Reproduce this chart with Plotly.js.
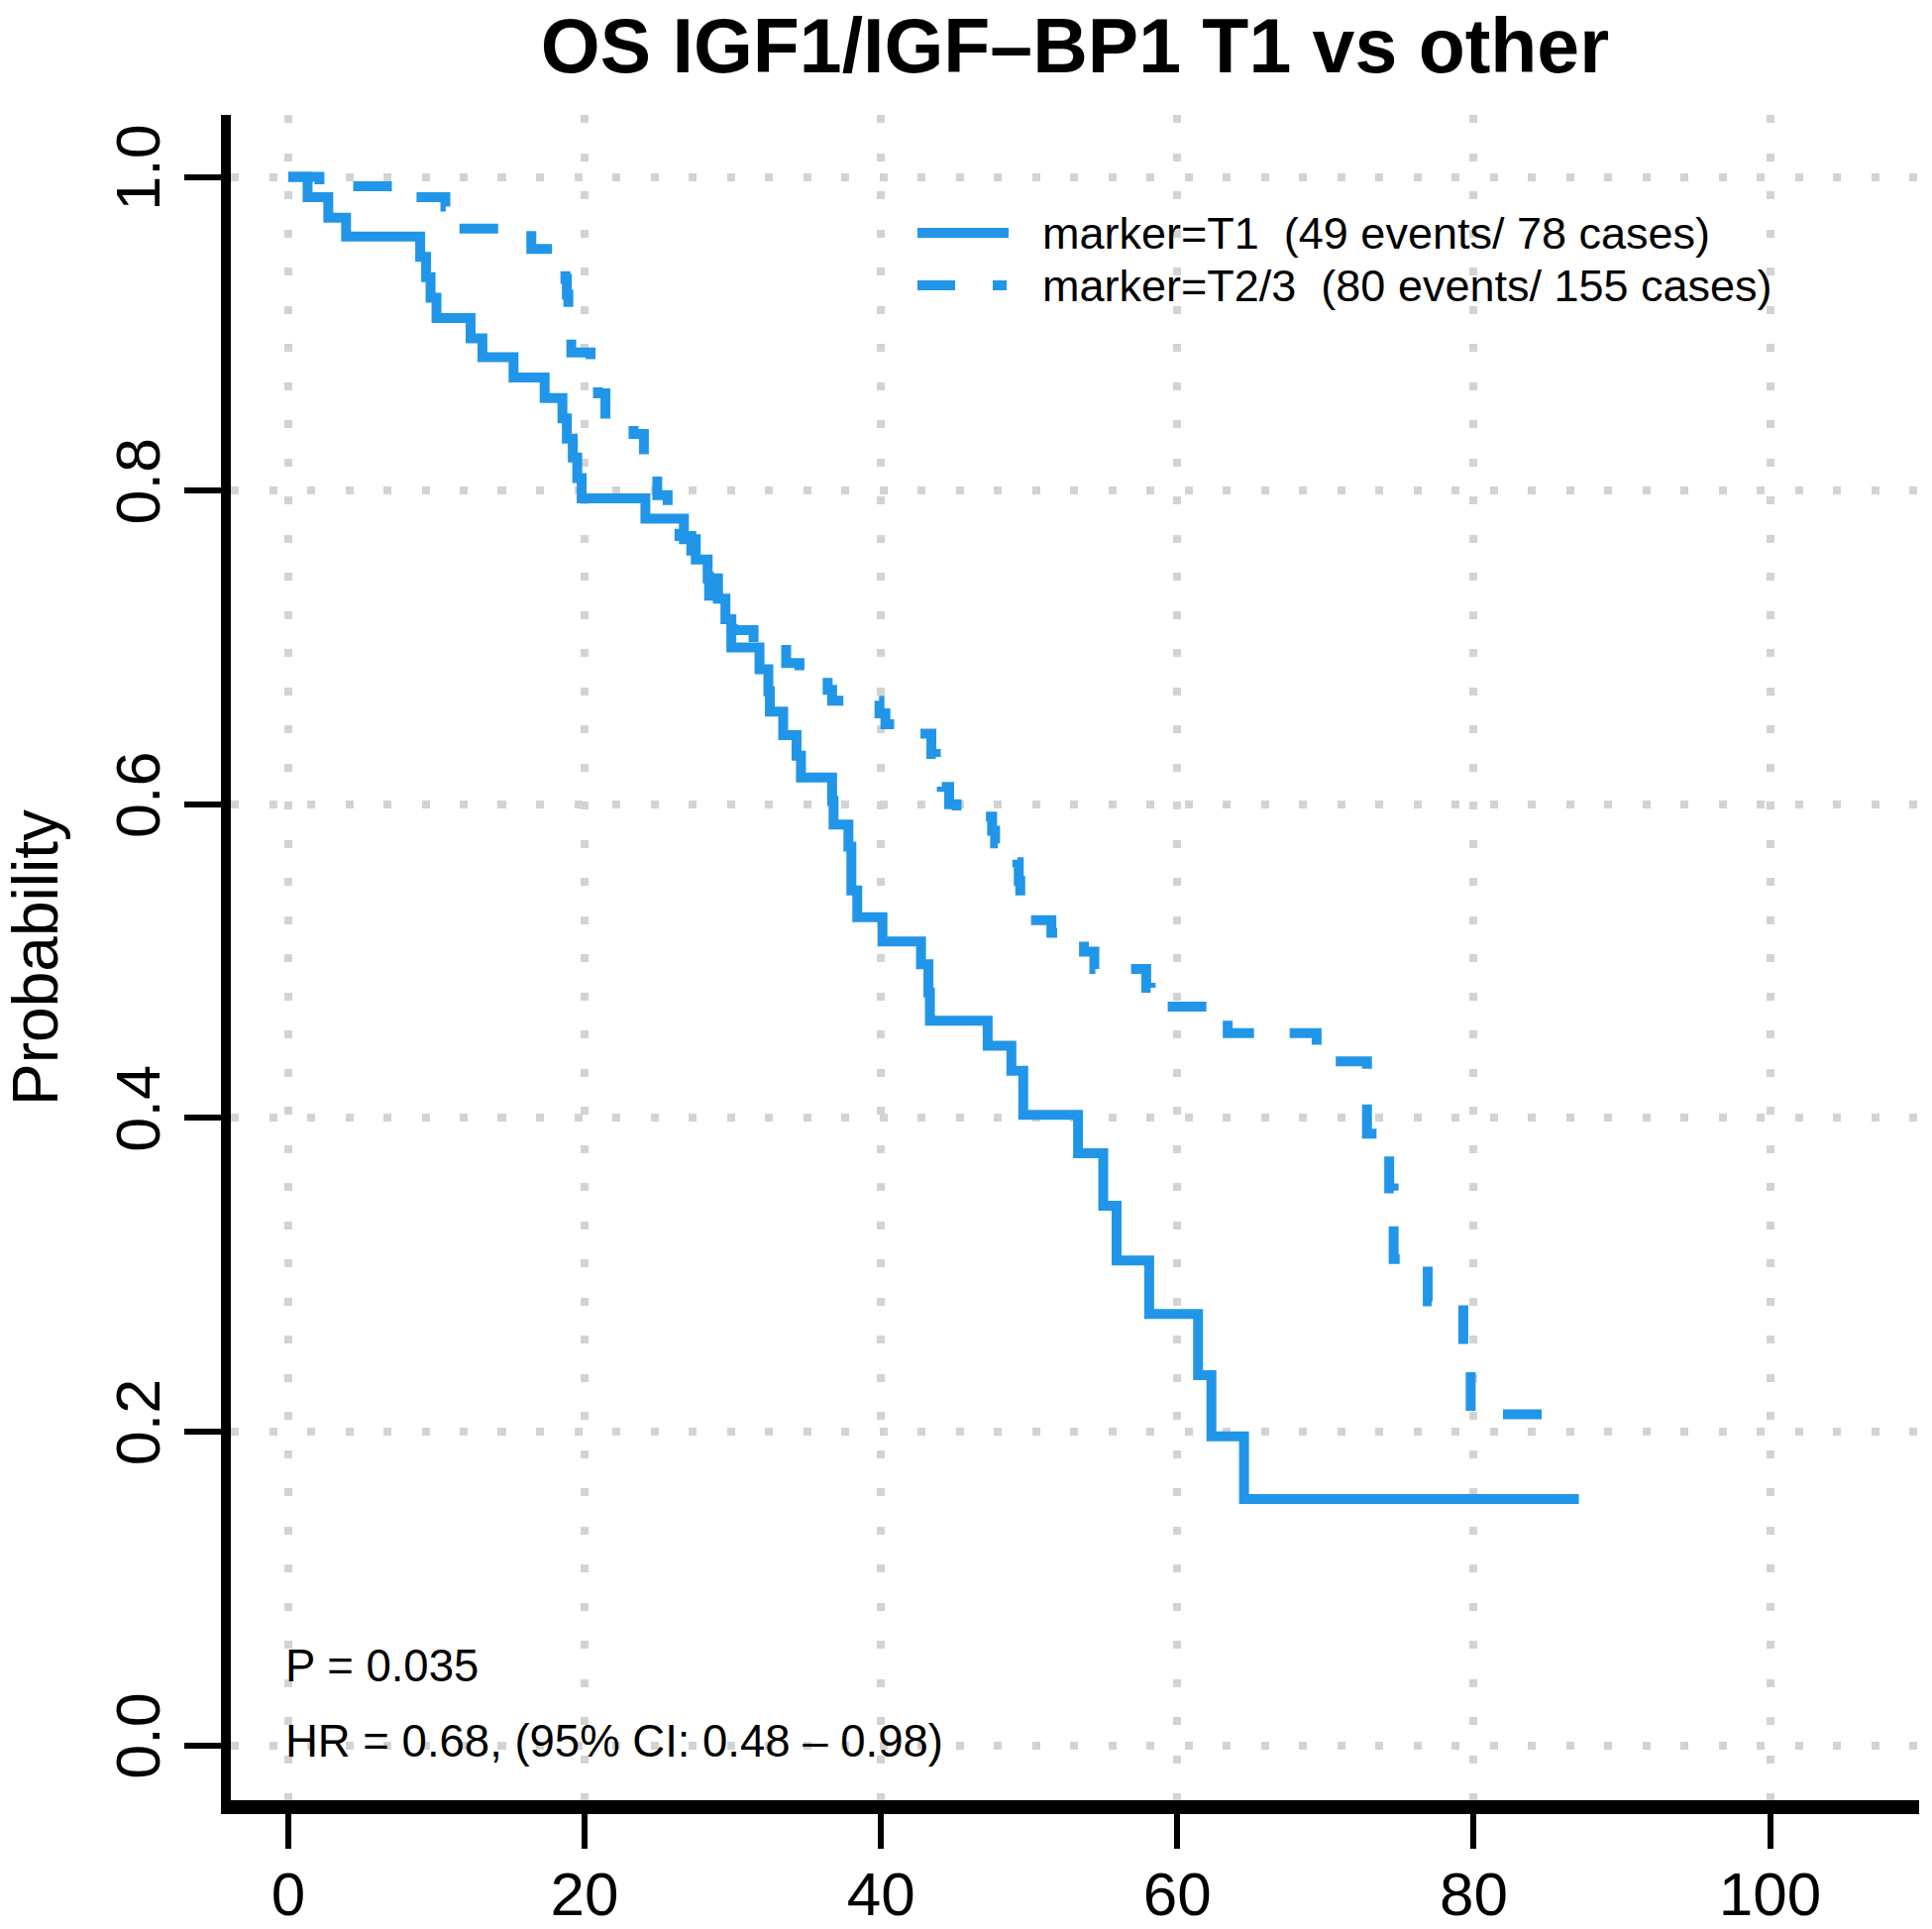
<!DOCTYPE html>
<html><head><meta charset="utf-8">
<script src="https://cdn.plot.ly/plotly-3.0.1.min.js"></script>
<style>html,body{margin:0;padding:0;background:#fff}#chart{width:1950px;height:1947px}</style>
</head><body><div id="chart"></div>
<script>
// ---- data ----
const t1_time = [0, 1.3, 2.7, 3.9, 8.9, 9.3, 9.6, 10.0, 12.3, 13.1, 15.2, 17.3, 18.5, 18.8, 19.2, 19.5, 19.8, 24.1, 26.7, 27.5, 28.3, 29.0, 29.5, 29.9, 31.8, 32.4, 32.5, 33.4, 34.3, 34.6, 36.7, 36.8, 37.8, 38.0, 38.4, 40.1, 42.7, 43.2, 43.3, 47.2, 48.8, 49.6, 53.3, 55.0, 55.9, 58.1, 61.4, 62.3, 64.5, 87.1];
const t1_surv = [1, 0.987, 0.974, 0.962, 0.949, 0.936, 0.923, 0.910, 0.897, 0.885, 0.872, 0.859, 0.846, 0.833, 0.821, 0.808, 0.795, 0.782, 0.769, 0.756, 0.744, 0.731, 0.718, 0.700, 0.686, 0.672, 0.659, 0.644, 0.631, 0.617, 0.602, 0.587, 0.573, 0.545, 0.528, 0.5125, 0.498, 0.48, 0.462, 0.446, 0.43, 0.402, 0.3775, 0.344, 0.309, 0.275, 0.236, 0.197, 0.157, 0.157];

const t23_time = [0, 2.1, 7.7, 10.6, 11.0, 11.5, 16.4, 18.4, 18.7, 18.8, 18.9, 19.0, 19.1, 20.4, 20.9, 21.4, 23.3, 24.0, 24.6, 24.9, 25.6, 26.4, 27.2, 27.8, 28.4, 29.0, 30.0, 31.4, 33.6, 34.5, 36.4, 36.7, 39.9, 40.3, 42.5, 43.4, 43.7, 44.1, 44.6, 45.1, 47.5, 47.7, 49.2, 49.3, 49.4, 49.5, 51.5, 53.7, 54.4, 57.9, 58.2, 63.2, 63.4, 69.4, 72.8, 74.3, 74.6, 76.9, 79.3, 79.8, 84.7];
const t23_surv = [1, 0.994, 0.987, 0.981, 0.974, 0.967, 0.954, 0.947, 0.935, 0.925, 0.913, 0.9, 0.888, 0.875, 0.862, 0.849, 0.836, 0.823, 0.81, 0.797, 0.784, 0.771, 0.758, 0.745, 0.733, 0.72, 0.711, 0.702, 0.69, 0.681, 0.673, 0.666, 0.658, 0.651, 0.645, 0.632, 0.62, 0.611, 0.6, 0.592, 0.583, 0.575, 0.563, 0.551, 0.539, 0.526, 0.518, 0.506, 0.495, 0.483, 0.471, 0.462, 0.454, 0.436, 0.39, 0.355, 0.31, 0.283, 0.245, 0.211, 0.211];

const seriesNames = ['marker=T1', 'marker=T2/3'];
const legendLabels = ['marker=T1\u00a0\u00a0(49 events/ 78 cases)', 'marker=T2/3\u00a0\u00a0(80 events/ 155 cases)'];
const xTickVals = [0, 20, 40, 60, 80, 100];
const xTickText = ['0', '20', '40', '60', '80', '100'];
const yTickVals = [0, 0.2, 0.4, 0.6, 0.8, 1.0];
const yTickText = ['0.0', '0.2', '0.4', '0.6', '0.8', '1.0'];
const titleText = 'OS IGF1/IGF\u2013BP1 T1 vs other';
const yTitleText = 'Probability';
const pText = 'P = 0.035';
const hrText = 'HR = 0.68, (95% CI: 0.48 \u2013 0.98)';

// ---- layout geometry ----
const W = 1950, H = 1947;
const M = {l: 233, r: 13, t: 116, b: 130};
const plotW = W - M.l - M.r, plotH = H - M.t - M.b;
const FONT = 'Liberation Sans, Arial, Helvetica, sans-serif';
const BLUE = '#2196E8';
const DASH = '39px,36px';
const px2x = px => (px - M.l) / plotW;
const py2y = py => (H - M.b - py) / plotH;
const X0PX = 291, XPX = 14.955, Y0PX = 1761.5, YPX = 1583;

const traces = [
  {x: t1_time, y: t1_surv, name: seriesNames[0], type: 'scatter', mode: 'lines',
   line: {shape: 'hv', color: BLUE, width: 10, dash: 'solid'}, showlegend: false, hoverinfo: 'skip'},
  {x: t23_time, y: t23_surv, name: seriesNames[1], type: 'scatter', mode: 'lines',
   line: {shape: 'hv', color: BLUE, width: 10, dash: DASH}, showlegend: false, hoverinfo: 'skip'}
];

const legY = [235, 288];
const shapes = [
  {type: 'line', xref: 'paper', yref: 'paper', x0: px2x(926), x1: px2x(1018), y0: py2y(legY[0]), y1: py2y(legY[0]),
   line: {color: BLUE, width: 10}},
  {type: 'line', xref: 'paper', yref: 'paper', x0: px2x(926), x1: px2x(1016), y0: py2y(legY[1]), y1: py2y(legY[1]),
   line: {color: BLUE, width: 10, dash: '38px,38px'}}
];

const legFont = {family: FONT, size: 45, color: '#000'};
const annFont = {family: FONT, size: 45.5, color: '#000'};
const annotations = [
  {xref: 'paper', yref: 'paper', x: px2x(1050), y: py2y(legY[0]), xanchor: 'left', yanchor: 'middle', showarrow: false, text: legendLabels[0], font: legFont},
  {xref: 'paper', yref: 'paper', x: px2x(1050), y: py2y(legY[1]), xanchor: 'left', yanchor: 'middle', showarrow: false, text: legendLabels[1], font: legFont},
  {xref: 'paper', yref: 'paper', x: px2x(286), y: py2y(1681), xanchor: 'left', yanchor: 'middle', showarrow: false, text: pText, font: annFont},
  {xref: 'paper', yref: 'paper', x: px2x(286), y: py2y(1757), xanchor: 'left', yanchor: 'middle', showarrow: false, text: hrText, font: annFont}
];

const gridDash = '8px,30.5px';
const layout = {
  width: W, height: H,
  margin: M,
  paper_bgcolor: '#fff', plot_bgcolor: '#fff',
  showlegend: false,
  font: {family: FONT, color: '#000'},
  title: {text: titleText, x: 0.5, xref: 'paper', xanchor: 'center',
          y: 1 - 46 / H, yref: 'container', yanchor: 'middle',
          font: {family: FONT, size: 77, weight: 'bold', color: '#000'}},
  xaxis: {
    range: [(M.l - X0PX) / XPX, (M.l - X0PX + plotW) / XPX],
    tickvals: xTickVals, ticktext: xTickText,
    showline: true, linecolor: '#000', linewidth: 14,
    ticks: 'outside', ticklen: 35, tickwidth: 6, tickcolor: '#000',
    ticklabelstandoff: -7,
    tickfont: {family: FONT, size: 62, color: '#000'},
    showgrid: true, gridcolor: '#d3d3d3', gridwidth: 8, griddash: gridDash,
    zeroline: false, fixedrange: true, automargin: false
  },
  yaxis: {
    range: [(Y0PX - (H - M.b)) / YPX, (Y0PX - M.t) / YPX],
    tickvals: yTickVals, ticktext: yTickText, tickangle: -90,
    showline: true, linecolor: '#000', linewidth: 10,
    ticks: 'outside', ticklen: 37, tickwidth: 6, tickcolor: '#000',
    tickfont: {family: FONT, size: 63, color: '#000'},
    showgrid: true, gridcolor: '#d3d3d3', gridwidth: 8, griddash: gridDash,
    zeroline: false, fixedrange: true, automargin: false,
    title: {text: yTitleText, font: {family: FONT, size: 64, color: '#000'}, standoff: 31}
  },
  shapes: shapes,
  annotations: annotations
};

Plotly.newPlot('chart', traces, layout, {staticPlot: true, displayModeBar: false});
</script>
</body></html>
